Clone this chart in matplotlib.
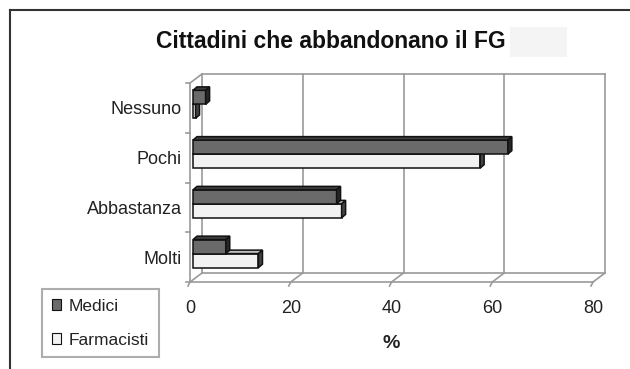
import matplotlib
matplotlib.use("Agg")
import matplotlib.pyplot as plt
from matplotlib.patches import Polygon, Rectangle, Patch
from matplotlib.lines import Line2D

plt.rcParams['font.family'] = ['Liberation Sans', 'DejaVu Sans']

# ---- data ----
categories = ["Molti", "Abbastanza", "Pochi", "Nessuno"]
medici = [6.5, 28.5, 62.5, 2.5]
farmacisti = [13, 29.5, 57, 0.5]
series_names = ["Medici", "Farmacisti"]
xticks = [0, 20, 40, 60, 80]
title = "Cittadini che abbandonano il FG"
xlabel = "%"

W, H = 630, 369
fig = plt.figure(figsize=(W / 100, H / 100), dpi=100)
fig.patch.set_facecolor("white")

# front plane of the 3D box in pixels
L, R, T, B = 190, 593, 83, 282
ax = fig.add_axes([L / W, 1 - B / H, (R - L) / W, (B - T) / H])
ax.set_xlim(0, 80)
ax.set_ylim(-0.5, 3.5)
for s in ax.spines.values():
    s.set_visible(False)
ax.set_facecolor("none")

sx = 80 / (R - L)   # data units per pixel (x)
sy = 4 / (B - T)    # data units per pixel (y)

grid_c = "#9a9a9a"
lw = 1.2
bx, by = 12 * sx, 9 * sy  # depth of the box

def line(xs, ys, **kw):
    kw.setdefault("color", grid_c)
    kw.setdefault("lw", lw)
    ax.add_line(Line2D(xs, ys, clip_on=False, **kw))

# back wall
for v in xticks:
    line([v + bx, v + bx], [-0.5 + by, 3.5 + by])
line([bx, 80 + bx], [3.5 + by, 3.5 + by])
line([bx, 80 + bx], [-0.5 + by, -0.5 + by])
# left wall / axis
line([0, 0], [-0.5, 3.5])
line([0, bx], [3.5, 3.5 + by])
for yb in [-0.5, 0.5, 1.5, 2.5, 3.5]:
    line([-4 * sx, 0], [yb, yb])
# floor
line([0, 80], [-0.5, -0.5])
for v in xticks:
    line([v, v + bx], [-0.5, -0.5 + by])
    line([v, v - 2 * sx], [-0.5, -0.5 - 4 * sy])

# bars (3D look)
ox, oy = 3 * sx, 3.5 * sy
h = 14 * sy
dx, dy = 4 * sx, 3.5 * sy
styles = {
    "Medici": dict(front="#6a6a6a", top="#3c3c3c", side="#262626"),
    "Farmacisti": dict(front="#f2f2f2", top="#bdbdbd", side="#444444"),
}

def bar3d(y0, v, st):
    ax.barh(y0, v, height=h, left=ox, align="edge", color=st["front"],
            edgecolor="#111111", linewidth=1.1, zorder=3, clip_on=False)
    top = y0 + h
    ax.add_patch(Polygon([(ox, top), (ox + v, top), (ox + v + dx, top + dy), (ox + dx, top + dy)],
                         closed=True, facecolor=st["top"], edgecolor="#111111", lw=1.1,
                         zorder=3, clip_on=False))
    ax.add_patch(Polygon([(ox + v, y0), (ox + v + dx, y0 + dy), (ox + v + dx, top + dy), (ox + v, top)],
                         closed=True, facecolor=st["side"], edgecolor="#111111", lw=1.1,
                         zorder=3, clip_on=False))

for i, cat in enumerate(categories):
    c = i + oy
    bar3d(c - h, farmacisti[i], styles["Farmacisti"])
    bar3d(c, medici[i], styles["Medici"])

# ticks
ax.set_xticks(xticks)
ax.set_xticklabels([str(v) for v in xticks], fontsize=13, color="#222222")
ax.set_yticks(range(len(categories)))
ax.set_yticklabels(categories, fontsize=13, color="#222222")
ax.tick_params(axis="x", length=0, pad=13)
ax.tick_params(axis="y", length=0, pad=6)

# axis label
fig.text(391 / W, 1 - 343 / H, xlabel, ha="center", va="center",
         fontsize=14, fontweight="bold", color="#222222")

# title
fig.text(331 / W, 1 - 41 / H, title, ha="center", va="center",
         fontsize=16.5, fontweight="bold", color="#111111")
fig.add_artist(Rectangle((510 / W, 1 - 57 / H), 57 / W, 30 / H,
                         transform=fig.transFigure, facecolor="#f4f4f4", edgecolor="none"))

# outer frame (left and top edges)
fig.add_artist(Line2D([10 / W, 10 / W], [0, 1 - 10 / H], transform=fig.transFigure,
                      color="#333333", lw=1.5))
fig.add_artist(Line2D([10 / W, 1], [1 - 10 / H, 1 - 10 / H], transform=fig.transFigure,
                      color="#333333", lw=1.5))

# legend
handles = [Patch(facecolor=styles[n]["front"], edgecolor="#111111", lw=0.8) for n in series_names]
leg = fig.legend(handles, series_names, loc="upper left",
                 bbox_to_anchor=(42 / W, 1 - 289 / H), fontsize=12.5,
                 handlelength=0.55, handleheight=0.55, handletextpad=0.45,
                 labelspacing=1.1, borderpad=0.55, borderaxespad=0,
                 fancybox=False, frameon=True)
leg.get_frame().set_edgecolor("#999999")
leg.get_frame().set_linewidth(1.5)
for t in leg.get_texts():
    t.set_color("#222222")

fig.savefig("out.png", dpi=100)
